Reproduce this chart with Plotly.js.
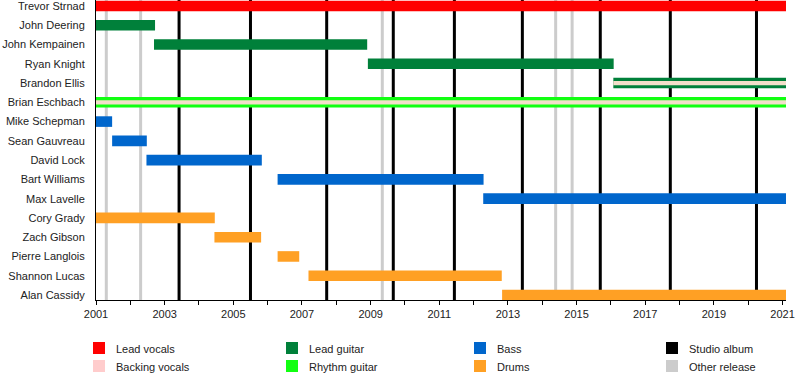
<!DOCTYPE html>
<html>
<head>
<meta charset="utf-8">
<script src="https://cdn.plot.ly/plotly-3.0.1.min.js"></script>
<style>html,body{margin:0;padding:0;background:#fff;}#chart{width:800px;height:380px;}</style>
</head>
<body>
<div id="chart"></div>
<script>
// ---- data ----
const members = ["Trevor Strnad","John Deering","John Kempainen","Ryan Knight","Brandon Ellis","Brian Eschbach","Mike Schepman","Sean Gauvreau","David Lock","Bart Williams","Max Lavelle","Cory Grady","Zach Gibson","Pierre Langlois","Shannon Lucas","Alan Cassidy"];
const roles = ["Lead vocals","Lead guitar","Lead guitar","Lead guitar","Lead guitar","Rhythm guitar","Bass","Bass","Bass","Bass","Bass","Drums","Drums","Drums","Drums","Drums"];
const starts = [2001, 2001, 2002.69, 2008.92, 2016.07, 2001, 2001, 2001.47, 2002.47, 2006.29, 2012.28, 2001, 2004.45, 2006.29, 2007.19, 2012.83];
const ends   = [2021.1, 2002.72, 2008.90, 2016.08, 2021.1, 2021.1, 2001.47, 2002.48, 2005.83, 2012.29, 2021.1, 2004.46, 2005.81, 2006.92, 2012.82, 2021.1];
const backingMembers = ["Brandon Ellis","Brian Eschbach"];
const backingStarts = [2016.07, 2001];
const backingEnds = [2021.1, 2021.1];
const studioAlbums = [2003.42, 2005.50, 2007.72, 2009.66, 2011.44, 2013.42, 2015.69, 2017.73, 2020.24];
const otherReleases = [2001.30, 2002.30, 2009.34, 2014.39, 2014.87];
const yearTicks = [2001,2002,2003,2004,2005,2006,2007,2008,2009,2010,2011,2012,2013,2014,2015,2016,2017,2018,2019,2020,2021];
const yearLabels = ["2001","","2003","","2005","","2007","","2009","","2011","","2013","","2015","","2017","","2019","","2021"];
const legendLabels = ["Lead vocals","Backing vocals","Lead guitar","Rhythm guitar","Bass","Drums","Studio album","Other release"];

// ---- styles ----
const roleColors = {
  "Lead vocals":"#ff0000","Backing vocals":"#ffcccc","Lead guitar":"#00803a",
  "Rhythm guitar":"#11ff11","Bass":"#0066cc","Drums":"#ffa024",
  "Studio album":"#000000","Other release":"#cccccc"
};
const stripeColor = "#f3dfca";
const L = 96, R = 786, T = 0, B = 300;
const px2x = p => (p - L) / (R - L);
const py2y = p => 1 - (p - T) / (B - T);

const traces = [];
const roleOrder = ["Lead vocals","Lead guitar","Rhythm guitar","Bass","Drums"];
roleOrder.forEach(role => {
  const ys = [], xs = [], bs = [];
  members.forEach((m, i) => {
    if (roles[i] === role) { ys.push(m); bs.push(starts[i]); xs.push(ends[i] - starts[i]); }
  });
  traces.push({type:"bar", orientation:"h", y:ys, x:xs, base:bs, width:0.55,
    marker:{color:roleColors[role], line:{width:0}}, hoverinfo:"skip", showlegend:false});
});
traces.push({type:"bar", orientation:"h", y:backingMembers,
  x:backingEnds.map((e,i)=>e-backingStarts[i]), base:backingStarts, width:0.22,
  marker:{color:stripeColor, line:{width:0}}, hoverinfo:"skip", showlegend:false});

const shapes = [];
otherReleases.forEach(d => shapes.push({type:"line", xref:"x", yref:"paper", x0:d, x1:d, y0:0, y1:1,
  line:{color:roleColors["Other release"], width:3}, layer:"below"}));
studioAlbums.forEach(d => shapes.push({type:"line", xref:"x", yref:"paper", x0:d, x1:d, y0:0, y1:1,
  line:{color:roleColors["Studio album"], width:3}, layer:"below"}));

// legend (manual, 4 columns x 2 rows)
const colSw = [93, 286, 474, 666];
const rowY = [342, 360];
const annotations = [];
legendLabels.forEach((lab, k) => {
  const c = Math.floor(k / 2), r = k % 2;
  const x0 = colSw[c], y0 = rowY[r];
  shapes.push({type:"rect", xref:"paper", yref:"paper", x0:px2x(x0), x1:px2x(x0+12), y0:py2y(y0), y1:py2y(y0+12),
    fillcolor:roleColors[lab], line:{width:0}});
  annotations.push({xref:"paper", yref:"paper", x:px2x(x0+21), y:py2y(y0+6.5), xanchor:"left", yanchor:"middle",
    text:lab, showarrow:false, font:{family:"Liberation Sans, Arial, sans-serif", size:11, color:"#222"}});
});

const layout = {
  width:800, height:380,
  margin:{l:L, r:800-R, t:T, b:380-B, pad:0},
  paper_bgcolor:"#fff", plot_bgcolor:"#fff",
  barmode:"overlay", showlegend:false,
  font:{family:"Liberation Sans, Arial, sans-serif", size:11, color:"#222"},
  xaxis:{range:[2001, 2021.1], tickvals:yearTicks, ticktext:yearLabels, ticks:"outside", ticklen:4,
    tickcolor:"#000", showgrid:false, zeroline:false, showline:true, linecolor:"#000", linewidth:1,
    tickfont:{size:11, color:"#222"}},
  yaxis:{type:"category", categoryorder:"array", categoryarray:members, range:[15.26, -0.31],
    showgrid:false, zeroline:false, showline:true, linecolor:"#000", linewidth:1, ticks:"",
    ticklabelstandoff:8, tickfont:{size:11, color:"#222"}},
  shapes:shapes, annotations:annotations
};
Plotly.newPlot("chart", traces, layout, {staticPlot:true, displayModeBar:false});
</script>
</body>
</html>
